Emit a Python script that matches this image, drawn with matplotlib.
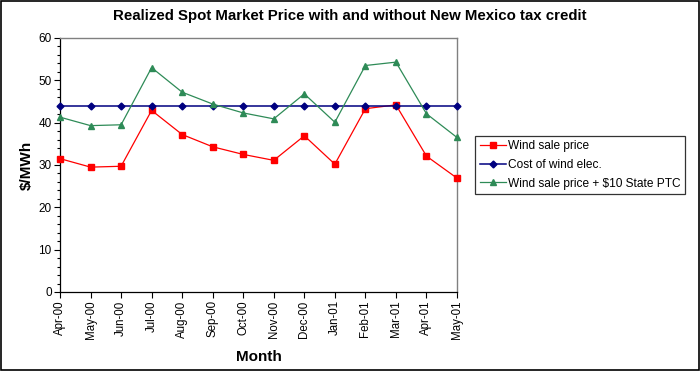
import matplotlib.pyplot as plt
from matplotlib.ticker import MultipleLocator

plt.rcParams['font.family'] = ['Liberation Sans', 'DejaVu Sans']

months = ["Apr-00", "May-00", "Jun-00", "Jul-00", "Aug-00", "Sep-00", "Oct-00",
          "Nov-00", "Dec-00", "Jan-01", "Feb-01", "Mar-01", "Apr-01", "May-01"]
wind_sale = [31.5, 29.5, 29.7, 42.9, 37.2, 34.3, 32.5, 31.1, 36.9, 30.2, 43.3, 44.2, 32.1, 26.9]
cost_wind = [43.9] * 14
wind_ptc = [41.3, 39.3, 39.5, 53.0, 47.2, 44.4, 42.3, 40.9, 46.8, 40.1, 53.5, 54.3, 42.1, 36.5]

fig = plt.figure(figsize=(7, 3.71), dpi=100)
ax = fig.add_axes([60 / 700, 1 - 292 / 371, (457 - 60) / 700, (292 - 38) / 371])

x = list(range(len(months)))
ax.plot(x, wind_sale, color="#FF0000", marker="s", markersize=5, lw=0.9,
        label="Wind sale price", clip_on=False, zorder=3)
ax.plot(x, cost_wind, color="#000080", marker="D", markersize=3.5, lw=1.1,
        label="Cost of wind elec.", clip_on=False, zorder=3)
ax.plot(x, wind_ptc, color="#2E8B57", marker="^", markersize=5, lw=0.9,
        label="Wind sale price + $10 State PTC", clip_on=False, zorder=3)

ax.set_xlim(0, len(months) - 1)
ax.set_ylim(0, 60)
ax.set_xticks(x)
ax.set_xticklabels(months, rotation=90, fontsize=8.3)
ax.yaxis.set_major_locator(MultipleLocator(10))
ax.yaxis.set_minor_locator(MultipleLocator(2))
ax.tick_params(axis="y", which="major", length=4, width=0.8, labelsize=8.5, pad=2)
ax.tick_params(axis="y", which="minor", length=2.5, width=0.8)
ax.tick_params(axis="x", length=4, width=0.8, pad=2)

for s in ["top", "right"]:
    ax.spines[s].set_color("#808080")
    ax.spines[s].set_linewidth(1.0)
for s in ["left", "bottom"]:
    ax.spines[s].set_color("black")
    ax.spines[s].set_linewidth(0.9)

ax.set_ylabel("$/MWh", fontsize=11, fontweight="bold", labelpad=3)
ax.set_xlabel("Month", fontsize=11, fontweight="bold", labelpad=8)
fig.text(0.5, 1 - 16 / 371, "Realized Spot Market Price with and without New Mexico tax credit",
         ha="center", va="center", fontsize=10.8, fontweight="bold")

leg = ax.legend(loc="center left", bbox_to_anchor=(475 / 700, 1 - 165 / 371),
                bbox_transform=fig.transFigure, fontsize=8.6, frameon=True,
                fancybox=False, edgecolor="black", borderpad=0.4, labelspacing=0.55,
                handlelength=2.2, handletextpad=0.15, borderaxespad=0)
leg.get_frame().set_linewidth(0.9)

# outer frame around the whole chart
fig.patches.append(plt.Rectangle((0.002, 0.004), 0.996, 0.992, transform=fig.transFigure,
                                 fill=False, edgecolor="black", lw=1.2))

fig.savefig("out.png", dpi=100)
